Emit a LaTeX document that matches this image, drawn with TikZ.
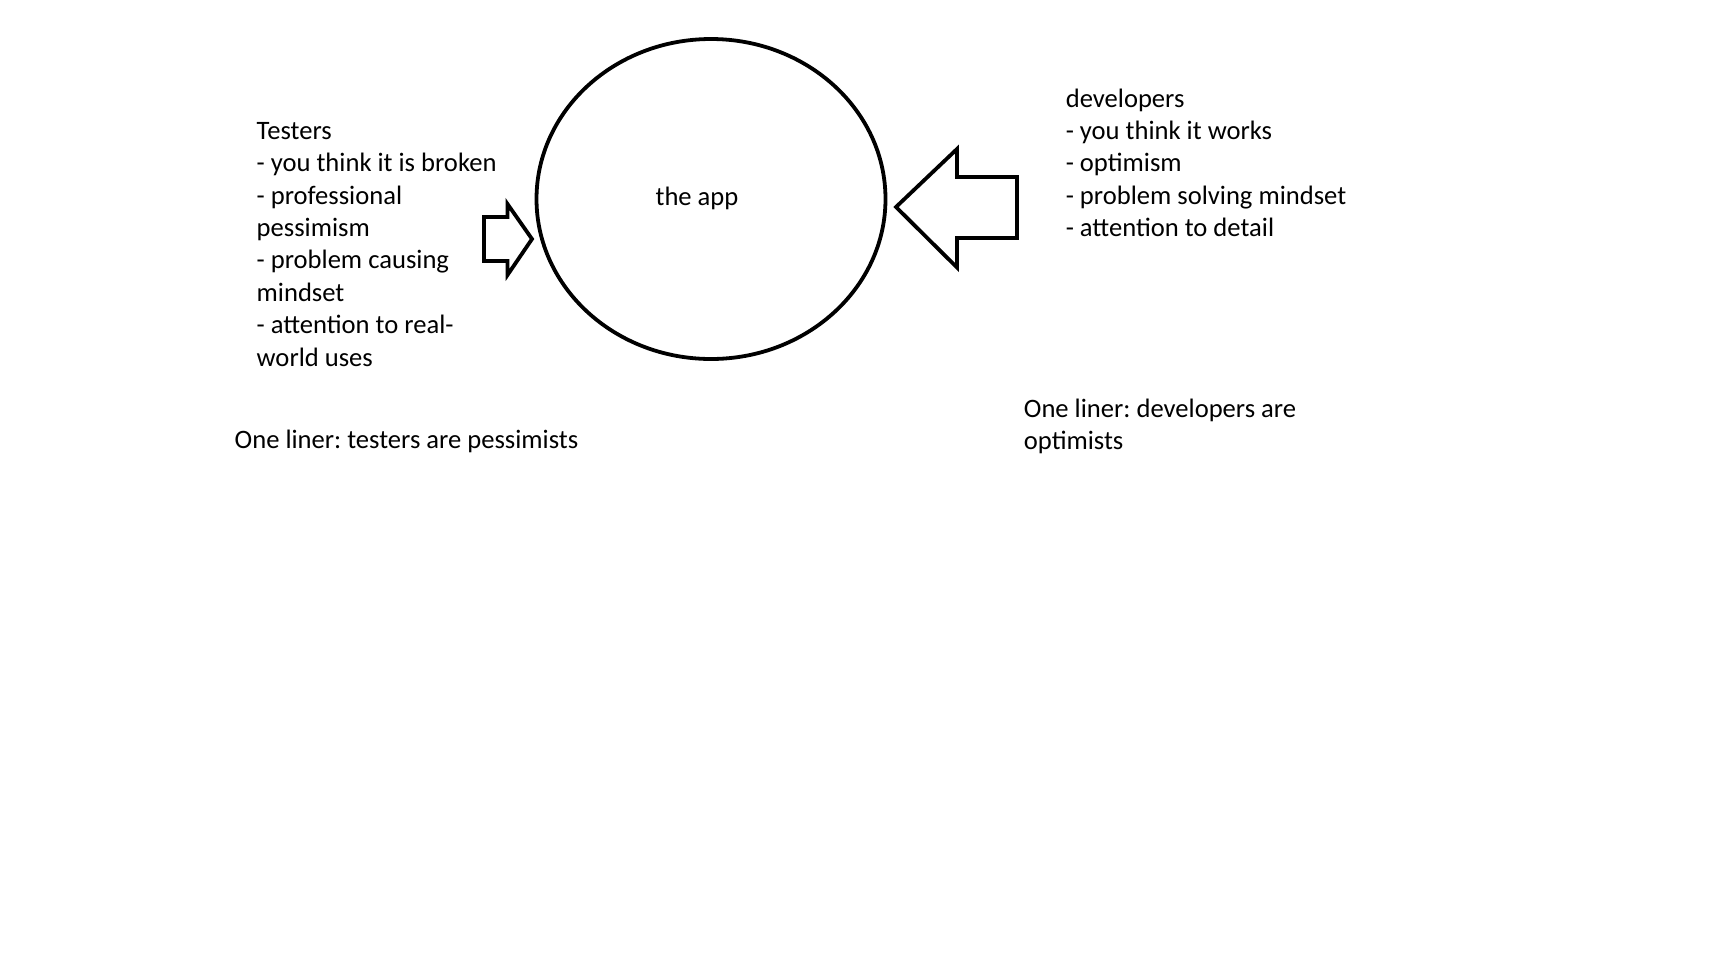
\documentclass[tikz,border=0pt]{standalone}
\usepackage{fontspec}
\setmainfont{Carlito}
\frenchspacing
\usetikzlibrary{positioning,shapes.geometric}
\tikzset{
	slidetext/.style={inner sep=0pt, align=left, anchor=north west, font=\fontsize{26.6pt}{32.4pt}\selectfont},
	outline/.style={draw, line width=3.8pt}
}
\begin{document}
\begin{tikzpicture}[x=1pt, y=-1pt]
			\useasboundingbox (0,0) rectangle (1726,970);
			\node (app) [outline, ellipse, minimum width=349pt, minimum height=320pt, inner sep=0pt] at (711,199) {};
			\node (applabel) [inner sep=0pt, anchor=base, font=\fontsize{26.6pt}{32.4pt}\selectfont] at (697,205) {the app};
			\node (testers) [slidetext] at (256.5,122) {Testers\\- you think it is broken\\- professional\\pessimism\\- problem causing\\mindset\\- attention to real-\\world uses};
			\node (devs) [slidetext] at (1065.6,88.4) {developers\\- you think it works\\- optimism\\- problem solving mindset\\- attention to detail};
			\node (testerline) [slidetext] at (234.5,429.4) {One liner: testers are pessimists};
			\node (devline) [slidetext] at (1023.7,398.4) {One liner: developers are\\optimists};
			% block arrows pointing at the app
			\draw [outline] (484,217) -- (507.5,217) -- (507.5,204) -- (532,239) -- (507.5,275) -- (507.5,261) -- (484,261) -- cycle;
			\draw [outline] (1017,177) -- (957,177) -- (957,149) -- (896,207) -- (957,267.5) -- (957,238) -- (1017,238) -- cycle;
		\end{tikzpicture}
\end{document}
